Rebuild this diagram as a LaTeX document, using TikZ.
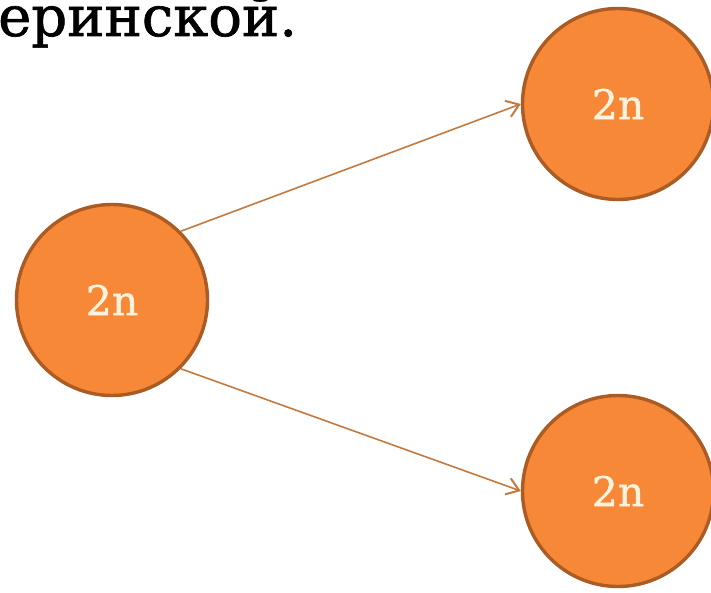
\documentclass[tikz,border=0pt]{standalone}
\usepackage{fontspec}
\setmainfont{DejaVu Serif}
\newfontfamily\heavyserif[FakeBold=1.2]{DejaVu Serif}
\usetikzlibrary{arrows.meta}
\definecolor{ballfill}{RGB}{246,136,56}
\definecolor{balledge}{RGB}{170,92,36}
\definecolor{linkcol}{RGB}{196,122,62}
\definecolor{labelcol}{RGB}{255,243,222}
\tikzset{
  ball/.style={circle, fill=ballfill, draw=balledge, line width=3.4pt,
    minimum size=191pt, inner sep=0pt, text=labelcol,
    font=\heavyserif\fontsize{41}{44}\selectfont},
  link/.style={draw=linkcol, line width=1.6pt,
    -{Straight Barb[length=12pt,width=17pt,line width=2pt]}}
}
\begin{document}
\begin{tikzpicture}[x=1pt,y=-1pt]
  \useasboundingbox (0,0) rectangle (711,593);
  \fill[white] (0,0) rectangle (711,593);
  % fragment of the line of text above the tree
  \node[anchor=base west, inner sep=0pt, font=\heavyserif\fontsize{56}{60}\selectfont] (caption) at (-2,36) {еринской.};
  % the three nodes
  \node[ball] (root) at (112,300) {2n};
  \node[ball] (upper) at (618,104) {2n};
  \node[ball] (lower) at (618,491) {2n};
  % edges
  \draw[link] (root.45) -- (upper.west);
  \draw[link] (root.-45) -- (lower.west);
\end{tikzpicture}
\end{document}
